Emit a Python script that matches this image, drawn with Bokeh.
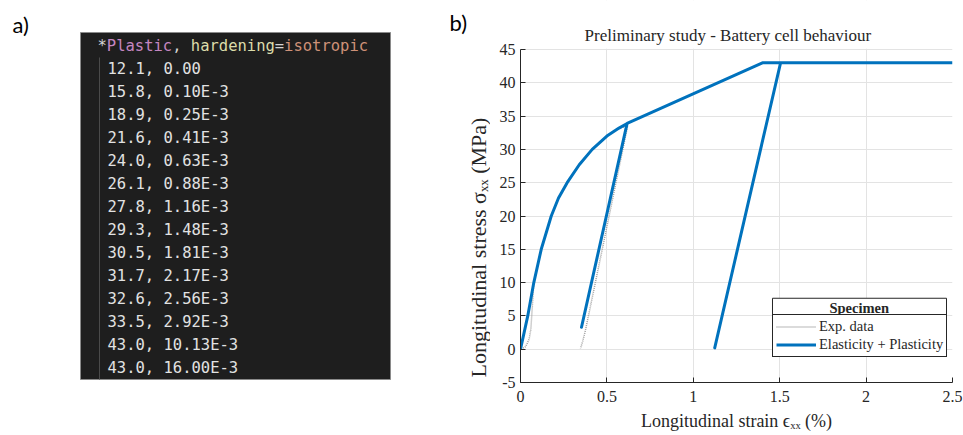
import numpy as np
from bokeh.plotting import figure
from bokeh.layouts import row
from bokeh.models import Range1d, FixedTicker, Label, Legend, LegendItem, BoxAnnotation
from bokeh.core.properties import value
from bokeh.embed import file_html
from bokeh.resources import INLINE

# ---------------- Panel a) : Abaqus input table ----------------
header_parts = ["*", "Plastic", ", ", "hardening", "=", "isotropic"]
header_colors = ["#d4d4d4", "#c586c0", "#d4d4d4", "#dcdcaa", "#d4d4d4", "#ce9178"]
table_stress = [12.1, 15.8, 18.9, 21.6, 24.0, 26.1, 27.8, 29.3, 30.5, 31.7, 32.6, 33.5, 43.0, 43.0]
table_plastic_strain = ["0.00", "0.10E-3", "0.25E-3", "0.41E-3", "0.63E-3", "0.88E-3",
                        "1.16E-3", "1.48E-3", "1.81E-3", "2.17E-3", "2.56E-3", "2.92E-3",
                        "10.13E-3", "16.00E-3"]

# ---------------- Panel b) : stress-strain curves ----------------
exp_strain = [0.005, 0.03, 0.05, 0.06, 0.065, 0.077, 0.12, 0.178, 0.22, 0.27, 0.34, 0.415,
              0.50, 0.57, 0.62, 0.55, 0.45, 0.376, 0.36, 0.347]
exp_stress = [0.0, 0.4, 1.5, 3.0, 5.0, 10.0, 15.0, 20.0, 22.7, 25.0, 27.7, 30.0,
              32.0, 33.2, 33.5, 24.7, 12.1, 2.85, 1.2, 0.1]

model_strain = [0.0, 0.042, 0.077, 0.12, 0.178, 0.22, 0.27, 0.34, 0.415, 0.50, 0.57, 0.617,
                0.353, 0.617, 1.40, 1.505, 1.124, 1.505, 2.5]
model_stress = [0.0, 5.0, 10.0, 15.0, 20.0, 22.7, 25.0, 27.7, 30.0, 32.0, 33.2, 33.9,
                3.3, 33.9, 43.0, 43.0, 0.2, 43.0, 43.0]

x_ticks = [0, 0.5, 1, 1.5, 2, 2.5]
x_tick_labels = ["0", "0.5", "1", "1.5", "2", "2.5"]
y_ticks = [-5, 0, 5, 10, 15, 20, 25, 30, 35, 40, 45]
y_tick_labels = ["-5", "0", "5", "10", "15", "20", "25", "30", "35", "40", "45"]

TXT = "#262626"
SERIF = "Liberation Serif"
H = 435
BOTTOM = 53            # shared bottom border (x-axis area)
FRAME_BOTTOM = H - BOTTOM
Y_MIN, Y_MAX = -5, 45
Y_PER_PX = (Y_MAX - Y_MIN) / (FRAME_BOTTOM - 49)

# ---------- left figure (page pixel coordinates) ----------
pa = figure(width=490, height=H, x_range=Range1d(0, 490), y_range=Range1d(FRAME_BOTTOM, 0),
            output_backend="svg", toolbar_location=None,
            min_border_left=0, min_border_right=0, min_border_top=0, min_border_bottom=BOTTOM,
            x_axis_type=None, y_axis_type=None, outline_line_color=None)
pa.quad(left=[80], right=[390], top=[32], bottom=[379],
        fill_color="#1e1e1e", line_color="#8a8a8a", line_width=1)
pa.segment(x0=[99], y0=[57], x1=[99], y1=[379], line_color="#4a4a4a", line_width=1)

FS = 15.5
cw = FS * 0.602
offs = np.cumsum([0] + [len(s) for s in header_parts[:-1]])
pa.text(x=list(97 + offs * cw), y=[45] * len(header_parts), text=header_parts,
        text_color=header_colors, text_font=value("DejaVu Sans Mono"),
        text_font_size=f"{FS}px", text_baseline="middle", text_align="left")

lines = [f"{s:.1f}, {e}" for s, e in zip(table_stress, table_plastic_strain)]
ys = [68 + 23 * i for i in range(len(lines))]
pa.text(x=[107] * len(lines), y=ys, text=lines, text_color="#e2e2e2",
        text_font=value("DejaVu Sans Mono"), text_font_size=f"{FS}px",
        text_baseline="middle", text_align="left")

pa.add_layout(Label(x=12, y=24, text="a)", text_font="Lato", text_font_size="22px",
                    text_color="black", text_baseline="middle", text_align="left"))
pa.add_layout(Label(x=449, y=22, text="b)", text_font="Lato", text_font_size="22px",
                    text_color="black", text_baseline="middle", text_align="left"))
pa.add_layout(Label(x=478, y=247, text="Longitudinal stress σₓₓ (MPa)", angle=np.pi / 2,
                    text_font=SERIF, text_font_size="22px", text_color=TXT,
                    text_align="center", text_baseline="middle"))

# ---------- right figure ----------
y_top = Y_MAX + 49 * Y_PER_PX
pb = figure(width=473, height=H, x_range=Range1d(0, 2.5), y_range=Range1d(Y_MIN, y_top),
            output_backend="svg", toolbar_location=None,
            min_border_left=30, min_border_right=11, min_border_top=0, min_border_bottom=BOTTOM)
pb.outline_line_color = None

pb.xaxis.axis_line_color = TXT
pb.yaxis.axis_line_color = TXT
pb.xaxis.major_tick_line_color = TXT
pb.yaxis.major_tick_line_color = TXT
pb.xaxis.major_tick_in = 5
pb.yaxis.major_tick_in = 5
pb.xaxis.major_tick_out = 0
pb.yaxis.major_tick_out = 0
pb.xaxis.minor_tick_line_color = None
pb.yaxis.minor_tick_line_color = None
pb.xaxis.major_label_text_font = SERIF
pb.yaxis.major_label_text_font = SERIF
pb.xaxis.major_label_text_font_size = "16px"
pb.yaxis.major_label_text_font_size = "16px"
pb.xaxis.major_label_text_color = TXT
pb.yaxis.major_label_text_color = TXT
pb.yaxis.bounds = (Y_MIN, Y_MAX)

pb.xaxis.ticker = FixedTicker(ticks=x_ticks)
pb.xaxis.major_label_overrides = dict(zip(x_ticks, x_tick_labels))
pb.yaxis.ticker = FixedTicker(ticks=y_ticks)
pb.yaxis.major_label_overrides = dict(zip(y_ticks, y_tick_labels))
pb.xaxis.major_label_standoff = 8
pb.yaxis.major_label_standoff = 5
pb.xgrid.ticker = FixedTicker(ticks=x_ticks)
pb.ygrid.ticker = FixedTicker(ticks=y_ticks)
pb.grid.grid_line_color = "#e3e3e3"

pb.xaxis.axis_label = "Longitudinal strain ϵₓₓ (%)"
pb.xaxis.axis_label_text_font = SERIF
pb.xaxis.axis_label_text_font_size = "18px"
pb.xaxis.axis_label_text_font_style = "normal"
pb.xaxis.axis_label_text_color = TXT
pb.xaxis.axis_label_standoff = 6

exp_r = pb.line(exp_strain, exp_stress, line_color="#a0a0a0", line_width=1.5, line_dash="1 1")
mod_r = pb.line(model_strain, model_stress, line_color="#0072BD", line_width=3,
                line_join="round")

# hide grid above the axes box (title area)
pb.add_layout(BoxAnnotation(bottom=Y_MAX + 0.1, fill_color="white", fill_alpha=1,
                            line_color=None))
pb.add_layout(Label(x=1.2, y=Y_MAX + 14 * Y_PER_PX, text="Preliminary study - Battery cell behaviour",
                    text_font=SERIF, text_font_size="17px", text_color=TXT,
                    text_align="center", text_baseline="middle"))

legend = Legend(items=[LegendItem(label="Exp. data", renderers=[exp_r]),
                       LegendItem(label="Elasticity + Plasticity", renderers=[mod_r])],
                location=(252, 25), orientation="vertical",
                border_line_color=TXT, border_line_width=1, border_line_alpha=1,
                padding=3, spacing=1, margin=0, glyph_width=40, glyph_height=17,
                label_height=17, label_standoff=3, label_text_font=SERIF,
                label_text_font_size="14.5px", label_text_color=TXT,
                background_fill_color="white", background_fill_alpha=1)
pb.add_layout(legend)
pb.add_layout(BoxAnnotation(left=1.4583, right=2.4653, top=7.65, bottom=4.8,
                            fill_color="white", fill_alpha=1, line_color=TXT,
                            line_width=1, line_alpha=1))
pb.add_layout(Label(x=1.96, y=6.2, text="Specimen", text_font=SERIF,
                    text_font_size="14.5px", text_font_style="bold", text_color=TXT,
                    text_align="center", text_baseline="middle"))

layout = row(pa, pb)
open("out.html", "w").write(file_html(layout, INLINE))
